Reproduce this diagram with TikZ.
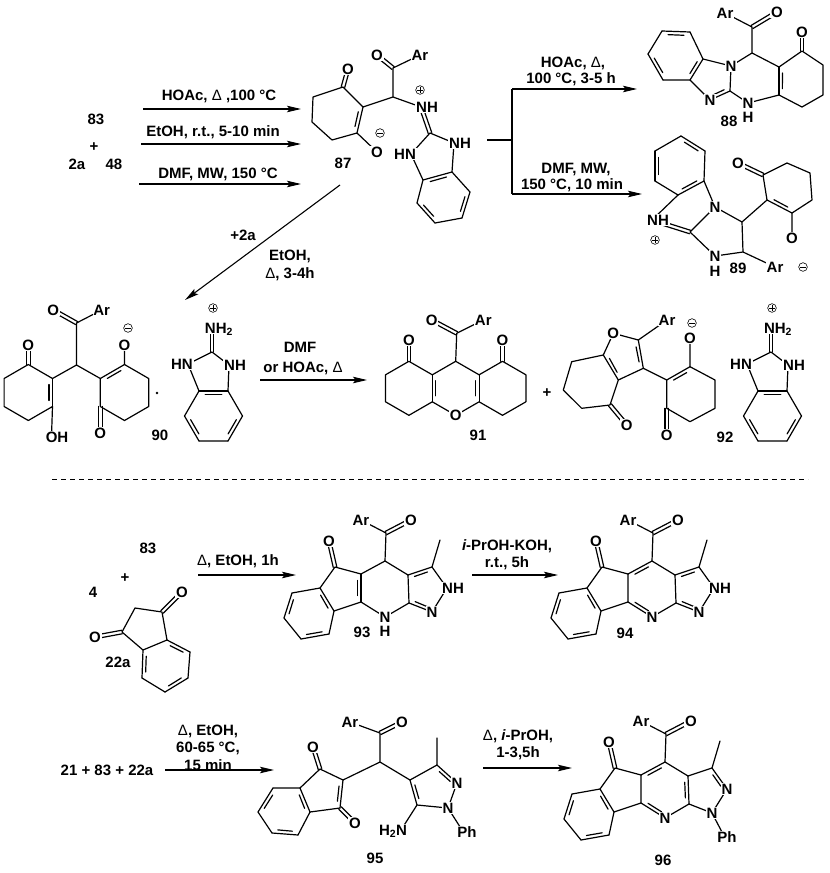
\documentclass[tikz,border=0pt]{standalone}
\usepackage{fontspec}
\setmainfont{Liberation Sans}
\usetikzlibrary{calc,arrows.meta}
\newcommand{\fs}{\fontsize{15}{17}\selectfont\bfseries}
\newcommand{\Dl}{{\mdseries Δ}}
\newcommand{\dbr}[3]{\draw[bond] (#1)--(#2); \draw[bond] ($($(#1)!.17!(#2)$)!3.7pt!(#3)$) -- ($($(#2)!.17!(#1)$)!3.7pt!(#3)$);}
\newcommand{\dbc}[2]{\draw[bond] ($(#1)!1.8pt!90:(#2)$) -- ($(#2)!1.8pt!-90:(#1)$); \draw[bond] ($(#1)!1.8pt!-90:(#2)$) -- ($(#2)!1.8pt!90:(#1)$);}
\newcommand{\chp}[2]{\node[chg] (#1) at (#2) {}; \draw[chl] (#1.center) ++(-2.6,0) -- ++(5.2,0); \draw[chl] (#1.center) ++(0,-2.6) -- ++(0,5.2);}
\newcommand{\chm}[2]{\node[chg] (#1) at (#2) {}; \draw[chl] (#1.center) ++(-2.6,0) -- ++(5.2,0);}
\tikzset{
  bond/.style={line width=1.2pt, line cap=round},
  atm/.style={fill=white, inner sep=0.7pt, text height=10.8pt, text depth=0pt, font=\fs},
  txt/.style={inner sep=0pt, text height=10.8pt, text depth=0pt, font=\fs},
  rxn/.style={line width=1.1pt, -{Stealth[length=14pt,width=6.5pt,inset=2.5pt]}},
  rline/.style={line width=1.1pt},
  chg/.style={circle, draw, line width=0.6pt, minimum size=8.6pt, inner sep=0pt},
  chl/.style={line width=0.6pt},
}
\newcommand{\AmBz}[1]{%
  \coordinate (#1C2) at (212,352);
  \coordinate (#1NN) at (212,328);
  \coordinate (#1N3) at (188,364);
  \coordinate (#1N1) at (229,365);
  \coordinate (#1b1) at (199,391);
  \coordinate (#1b2) at (228,391);
  \coordinate (#1b3) at (242.5,416);
  \coordinate (#1b4) at (228,441);
  \coordinate (#1b5) at (199,441);
  \coordinate (#1b6) at (184.5,416);
  \coordinate (#1bc) at (213.5,416);
  \dbc{#1C2}{#1NN}
  \draw[bond] (#1C2)--(#1N3) (#1C2)--(#1N1) (#1N3)--(#1b1) (#1N1)--(#1b2) (#1b2)--(#1b3) (#1b4)--(#1b5) (#1b6)--(#1b1);
  \dbr{#1b1}{#1b2}{#1bc}
  \dbr{#1b3}{#1b4}{#1bc}
  \dbr{#1b5}{#1b6}{#1bc}
  \node[atm] (#1lNH2) at (219,328) {NH\textsubscript{2}};
  \node[atm] (#1lHN) at (182,364) {HN};
  \node[atm] (#1lNH) at (235,365) {NH};
  \chp{#1pl}{213,308}
}
\newcommand{\IndCore}[1]{%
  \coordinate (#1ck) at (335,567);
  \coordinate (#1ok) at (329,541);
  \coordinate (#1ca) at (361,574);
  \coordinate (#1cb) at (361,602);
  \coordinate (#1cc) at (334,611);
  \coordinate (#1cd) at (320,588);
  \coordinate (#1b1) at (292,593);
  \coordinate (#1b2) at (284,618);
  \coordinate (#1b3) at (301,639);
  \coordinate (#1b4) at (329,634);
  \coordinate (#1bz) at (310,614);
  \coordinate (#1fc) at (342,588);
  \coordinate (#1ch) at (385,561);
  \coordinate (#1cx) at (386,533);
  \coordinate (#1ox) at (411,520);
  \coordinate (#1ar) at (361,520);
  \coordinate (#1c3a) at (408,575);
  \coordinate (#1c7a) at (409,603);
  \coordinate (#1np) at (385,617);
  \coordinate (#1pc) at (385,589);
  \coordinate (#1c3) at (432,567);
  \coordinate (#1me) at (440,540);
  \coordinate (#1n2) at (447,588);
  \coordinate (#1n1) at (432,612);
  \coordinate (#1zc) at (425,589);
  \draw[bond] (#1ck)--(#1ca) (#1cb)--(#1cc) (#1cd)--(#1ck) (#1cd)--(#1b1) (#1b2)--(#1b3) (#1b4)--(#1cc) (#1ch)--(#1cx) (#1cx)--(#1ar) (#1ch)--(#1c3a) (#1np)--(#1c7a) (#1c3)--(#1me) (#1n2)--(#1n1);
  \dbr{#1b1}{#1b2}{#1bz}
  \dbr{#1b3}{#1b4}{#1bz}
  \dbr{#1cc}{#1cd}{#1bz}
  \dbc{#1ck}{#1ok}
  \dbc{#1cx}{#1ox}
  \node[atm] (#1lok) at (#1ok) {O};
  \node[atm] (#1lox) at (#1ox) {O};
  \node[atm] (#1lar) at (#1ar) {Ar};
}
\begin{document}
\begin{tikzpicture}[x=1pt,y=-1pt]
\useasboundingbox (0,0) rectangle (830,873);

% ---------- row 1: reactants and conditions ----------
\node[txt] (t83) at (96,119) {83};
\node[txt] (tpl1) at (94,146) {+};
\node[txt] (t2a) at (77,164) {2a};
\node[txt] (t48) at (114,164) {48};
\coordinate (a1s) at (143,109); \coordinate (a1e) at (301,109);
\coordinate (a2s) at (141,144); \coordinate (a2e) at (301,144);
\coordinate (a3s) at (139,184); \coordinate (a3e) at (301,184);
\draw[rxn] (a1s) -- (a1e);
\draw[rxn] (a2s) -- (a2e);
\draw[rxn] (a3s) -- (a3e);
\node[txt] (c1) at (219,95) {HOAc, \Dl{} ,100 °C};
\node[txt] (c2) at (213,131) {EtOH, r.t., 5-10 min};
\node[txt] (c3) at (218,173) {DMF, MW, 150 °C};

% ---------- 87 ----------
\coordinate (g1) at (343,87);
\coordinate (g2) at (363,107);
\coordinate (g3) at (357,133);
\coordinate (g4) at (332,140);
\coordinate (g5) at (312,122);
\coordinate (g6) at (313,97);
\coordinate (gc) at (337,114);
\coordinate (gO1) at (348,69);
\coordinate (gO2) at (377,152);
\coordinate (gch) at (393,97);
\coordinate (gcc) at (393,68);
\coordinate (gO3) at (377,55);
\coordinate (gAr) at (420,55);
\coordinate (gN1) at (421,107);
\coordinate (gC2) at (430,133);
\coordinate (gN3) at (411,154);
\coordinate (gN4) at (454,143);
\coordinate (gb1) at (452,172);
\coordinate (gb2) at (470,192);
\coordinate (gb3) at (462,218);
\coordinate (gb4) at (435,223);
\coordinate (gb5) at (417,203);
\coordinate (gb6) at (423,180);
\coordinate (gbc) at (443,198);
\draw[bond] (g1)--(g2) (g3)--(g4) (g4)--(g5) (g5)--(g6) (g6)--(g1) (g3)--(gO2) (g2)--(gch) (gch)--(gcc) (gcc)--(gAr) (gch)--(gN1) (gC2)--(gN3) (gC2)--(gN4) (gN3)--(gb6) (gN4)--(gb1) (gb1)--(gb2) (gb3)--(gb4) (gb5)--(gb6);
\dbr{g2}{g3}{gc}
\dbc{g1}{gO1}
\dbc{gcc}{gO3}
\dbc{gN1}{gC2}
\dbr{gb6}{gb1}{gbc}
\dbr{gb2}{gb3}{gbc}
\dbr{gb4}{gb5}{gbc}
\node[atm] (glO1) at (gO1) {O};
\node[atm] (glO2) at (gO2) {O};
\node[atm] (glO3) at (gO3) {O};
\node[atm] (glAr) at (gAr) {Ar};
\node[atm] (glN1) at (427,107) {NH};
\node[atm] (glN3) at (405,154) {HN};
\node[atm] (glN4) at (460,143) {NH};
\chm{gm}{380,133}
\chp{gp}{420,90}
\node[txt] (g87) at (343,163) {87};

% ---------- branch ----------
\coordinate (br0) at (487,140); \coordinate (br1) at (512,140);
\coordinate (br2) at (512,89); \coordinate (br3) at (512,194);
\coordinate (br4) at (637,89); \coordinate (br5) at (642,194);
\draw[rline] (br0)--(br1);
\draw[rline] (br2)--(br3);
\draw[rxn] (br2)--(br4);
\draw[rxn] (br3)--(br5);
\node[txt] (c4) at (573,62) {HOAc, \Dl,};
\node[txt] (c5) at (571,78) {100 °C, 3-5 h};
\node[txt] (c6) at (576,168) {DMF, MW,};
\node[txt] (c7) at (572,184) {150 °C, 10 min};

% ---------- 88 ----------
\coordinate (h1) at (752,53);
\coordinate (h2) at (779,67);
\coordinate (h3) at (779,95);
\coordinate (h4) at (748,103);
\coordinate (h5) at (730,91);
\coordinate (h6) at (731,66);
\coordinate (k1) at (802,51);
\coordinate (k2) at (823,65);
\coordinate (k3) at (823,95);
\coordinate (k4) at (802,107);
\coordinate (kc) at (801,80);
\coordinate (kO) at (802,32);
\coordinate (hcc) at (752,27);
\coordinate (hO) at (777,12);
\coordinate (hAr) at (725,13);
\coordinate (hN3) at (710,100);
\coordinate (hb1) at (703,59);
\coordinate (hb2) at (690,80);
\coordinate (hb3) at (663,80);
\coordinate (hb4) at (648,54);
\coordinate (hb5) at (662,31);
\coordinate (hb6) at (690,32);
\coordinate (hbc) at (676,56);
\coordinate (hic) at (713,77);
\draw[bond] (h1)--(h2) (h3)--(h4) (h4)--(h5) (h5)--(h6) (h6)--(h1) (k1)--(h2) (k1)--(k2) (k2)--(k3) (k3)--(k4) (k4)--(h3) (h1)--(hcc) (hcc)--(hAr) (h6)--(hb1) (hN3)--(hb2) (hb2)--(hb3) (hb4)--(hb5) (hb6)--(hb1);
\dbr{h2}{h3}{kc}
\dbc{k1}{kO}
\dbc{hcc}{hO}
\dbr{h5}{hN3}{hic}
\dbr{hb1}{hb2}{hbc}
\dbr{hb3}{hb4}{hbc}
\dbr{hb5}{hb6}{hbc}
\node[atm] (hlkO) at (kO) {O};
\node[atm] (hlO) at (hO) {O};
\node[atm] (hlAr) at (hAr) {Ar};
\node[atm] (hlN6) at (h6) {N};
\node[atm] (hlN3) at (hN3) {N};
\node[atm] (hlN4) at (h4) {N};
\node[atm] (hlH) at (748,117) {H};
\node[txt] (h88) at (729,121) {88};

% ---------- 89 ----------
\coordinate (m1) at (681,136);
\coordinate (m2) at (705,151);
\coordinate (m3) at (704,181);
\coordinate (m4) at (678,195);
\coordinate (m5) at (655,181);
\coordinate (m6) at (655,151);
\coordinate (mc) at (680,166);
\coordinate (mN3) at (652,220);
\coordinate (mC2) at (690,232);
\coordinate (mN1) at (715,207);
\coordinate (mC5) at (742,222);
\coordinate (mC4) at (743,252);
\coordinate (mN4) at (715,256);
\coordinate (mAr) at (775,267);
\coordinate (r1) at (767,200);
\coordinate (r2) at (763,175);
\coordinate (r3) at (787,163);
\coordinate (r4) at (810,173);
\coordinate (r5) at (812,200);
\coordinate (r6) at (792,213);
\coordinate (rc) at (788,187);
\coordinate (rO1) at (738,163);
\coordinate (rO2) at (792,238);
\draw[bond] (m2)--(m3) (m4)--(m5) (m6)--(m1) (m4)--(mN3) (mC2)--(mN1) (mN1)--(m3) (mN1)--(mC5) (mC5)--(mC4) (mC4)--(mN4) (mN4)--(mC2) (mC4)--(mAr) (mC5)--(r1) (r1)--(r2) (r2)--(r3) (r3)--(r4) (r4)--(r5) (r5)--(r6) (r6)--(rO2);
\dbr{m1}{m2}{mc}
\dbr{m3}{m4}{mc}
\dbr{m5}{m6}{mc}
\dbc{mN3}{mC2}
\dbr{r6}{r1}{rc}
\dbc{r2}{rO1}
\node[atm] (mlN3) at (658,220) {NH};
\chp{mp}{655,240}
\node[atm] (mlN1) at (mN1) {N};
\node[atm] (mlN4) at (mN4) {N};
\node[atm, inner sep=0pt] (mlH) at (715,271) {H};
\node[txt] (m89) at (738,268) {89};
\node[atm] (mlAr) at (mAr) {Ar};
\node[atm] (mlO1) at (rO1) {O};
\node[atm] (mlO2) at (rO2) {O};
\chm{mm}{803,267}

% ---------- arrow 87 -> 90 ----------
\coordinate (d87s) at (340,185); \coordinate (d87e) at (185,300);
\draw[rxn] (d87s)--(d87e);
\node[txt] (c8) at (243,235) {+2a};
\node[txt] (c9) at (290,255) {EtOH,};
\node[txt] (c10) at (290,273) {\Dl, 3-4h};

% ---------- 90 ----------
\coordinate (L1) at (28.3,364.5);
\coordinate (L2) at (52.5,378.5);
\coordinate (L3) at (52.5,406.5);
\coordinate (L4) at (28.3,420.5);
\coordinate (L5) at (4.1,406.5);
\coordinate (L6) at (4.1,378.5);
\coordinate (Lc) at (28.3,392.5);
\coordinate (LO) at (28.3,345);
\coordinate (LOH) at (51.5,436);
\coordinate (R1) at (124.5,364.5);
\coordinate (R2) at (100.3,378.5);
\coordinate (R3) at (100.3,406.5);
\coordinate (R4) at (124.5,420.5);
\coordinate (R5) at (148.7,406.5);
\coordinate (R6) at (148.7,378.5);
\coordinate (Rc) at (124.5,392.5);
\coordinate (RO1) at (124.5,345);
\coordinate (RO3) at (100.3,433);
\coordinate (vch) at (76.5,365);
\coordinate (vcx) at (76.5,323);
\coordinate (vO) at (53.3,310);
\coordinate (vAr) at (101.7,310);
\draw[bond] (L1)--(L2) (L3)--(L4) (L4)--(L5) (L5)--(L6) (L6)--(L1) (L3)--(LOH) (L2)--(vch) (vch)--(R2) (vch)--(vcx) (vcx)--(vAr) (R2)--(R3) (R3)--(R4) (R4)--(R5) (R5)--(R6) (R6)--(R1) (R1)--(RO1);
\dbr{L2}{L3}{Lc}
\dbc{L1}{LO}
\dbc{vcx}{vO}
\dbr{R1}{R2}{Rc}
\dbc{R3}{RO3}
\node[atm] (vlLO) at (LO) {O};
\node[atm] (vlOH) at (57,437) {OH};
\node[atm] (vlO) at (vO) {O};
\node[atm] (vlAr) at (vAr) {Ar};
\node[atm] (vlRO1) at (RO1) {O};
\chm{vm}{128,328}
\node[atm] (vlRO3) at (RO3) {O};
\node[circle, fill, inner sep=0pt, minimum size=2.6pt] (vdot) at (157,393) {};
\node[txt] (v90) at (160,435) {90};
\AmBz{a90}

% ---------- arrow 90 -> 91 ----------
\coordinate (e90s) at (260,380); \coordinate (e90e) at (367,380);
\draw[rxn] (e90s)--(e90e);
\node[txt] (c11) at (300,347) {DMF};
\node[txt] (c12) at (303,367) {or HOAc, \Dl};

% ---------- 91 ----------
\coordinate (xp1) at (455.7,361.3);
\coordinate (xp2) at (479.1,374.8);
\coordinate (xp3) at (479.1,401.8);
\coordinate (xp4) at (455.7,415.3);
\coordinate (xp5) at (432.3,401.8);
\coordinate (xp6) at (432.3,374.8);
\coordinate (xpc) at (455.7,388.3);
\coordinate (xla) at (408.9,361.3);
\coordinate (xlb) at (385.5,374.8);
\coordinate (xlc) at (385.5,401.8);
\coordinate (xld) at (408.9,415.3);
\coordinate (xra) at (502.5,361.3);
\coordinate (xrb) at (525.9,374.8);
\coordinate (xrc) at (525.9,401.8);
\coordinate (xrd) at (502.5,415.3);
\coordinate (xlO) at (408.9,340);
\coordinate (xrO) at (502.5,340);
\coordinate (xcx) at (456.7,333.3);
\coordinate (xO) at (431.7,320);
\coordinate (xAr) at (483.3,320);
\draw[bond] (xp1)--(xp2) (xp3)--(xp4) (xp4)--(xp5) (xp6)--(xp1) (xla)--(xp6) (xla)--(xlb) (xlb)--(xlc) (xlc)--(xld) (xld)--(xp5) (xra)--(xp2) (xra)--(xrb) (xrb)--(xrc) (xrc)--(xrd) (xrd)--(xp3) (xp1)--(xcx) (xcx)--(xAr);
\dbr{xp2}{xp3}{xpc}
\dbr{xp5}{xp6}{xpc}
\dbc{xla}{xlO}
\dbc{xra}{xrO}
\dbc{xcx}{xO}
\node[atm] (xlp4) at (xp4) {O};
\node[atm] (xllO) at (xlO) {O};
\node[atm] (xlrO) at (xrO) {O};
\node[atm] (xlO) at (xO) {O};
\node[atm] (xlAr) at (xAr) {Ar};
\node[txt] (x91) at (478,435) {91};
\node[txt] (xplus) at (547,392) {+};

% ---------- 92 ----------
\coordinate (fO) at (613.3,333.3);
\coordinate (f2) at (638.3,340);
\coordinate (f3) at (643.3,368.3);
\coordinate (f3a) at (618.3,380);
\coordinate (f7a) at (603.3,355);
\coordinate (ffc) at (624,355);
\coordinate (fAr) at (667,320);
\coordinate (f7) at (571.7,361.7);
\coordinate (f6) at (563.3,390);
\coordinate (f5) at (581.7,408.3);
\coordinate (f4) at (610,405);
\coordinate (f4O) at (626.7,425);
\coordinate (e1) at (666.7,380);
\coordinate (e2) at (690,366.7);
\coordinate (e3) at (715,380);
\coordinate (e4) at (715,408.3);
\coordinate (e5) at (690,421.7);
\coordinate (e6) at (666.7,408.3);
\coordinate (ec) at (690.5,394);
\coordinate (e2O) at (690,338.3);
\coordinate (e6O) at (666.7,435);
\draw[bond] (fO)--(f2) (f3)--(f3a) (f7a)--(fO) (f7a)--(f7) (f7)--(f6) (f6)--(f5) (f5)--(f4) (f4)--(f3a) (f2)--(fAr) (f3)--(e1) (e2)--(e3) (e3)--(e4) (e4)--(e5) (e5)--(e6) (e6)--(e1) (e2)--(e2O);
\dbr{f2}{f3}{ffc}
\dbr{f3a}{f7a}{ffc}
\dbc{f4}{f4O}
\dbr{e1}{e2}{ec}
\dbc{e6}{e6O}
\node[atm] (flO) at (fO) {O};
\node[atm] (flAr) at (fAr) {Ar};
\node[atm] (fl4O) at (f4O) {O};
\node[atm] (fle2O) at (e2O) {O};
\chm{fm}{692,323}
\node[atm] (fle6O) at (e6O) {O};
\node[txt] (f92) at (725,437) {92};
\begin{scope}[shift={(559,0)}]
\AmBz{a92}
\end{scope}

% ---------- dashed separator ----------
\coordinate (sep1) at (52,479); \coordinate (sep2) at (808,479);
\draw[line width=0.8pt, dash pattern=on 5pt off 4pt] (sep1)--(sep2);

% ---------- row 2 ----------
\node[txt] (t83b) at (148,548) {83};
\node[txt] (tpl2) at (125,577) {+};
\node[txt] (t4) at (93,592) {4};
\coordinate (i1) at (162,612);
\coordinate (i1O) at (182,592);
\coordinate (i2) at (135,608);
\coordinate (i3) at (122,632);
\coordinate (i3O) at (95,637);
\coordinate (i3a) at (143,650);
\coordinate (i7a) at (167,640);
\coordinate (i7) at (190,652);
\coordinate (i6) at (188,678);
\coordinate (i5) at (165,692);
\coordinate (i4) at (142,678);
\coordinate (ibz) at (166,665);
\draw[bond] (i1)--(i2) (i2)--(i3) (i3)--(i3a) (i7a)--(i1) (i7)--(i6) (i5)--(i4) (i3a)--(i7a);
\dbc{i1}{i1O}
\dbc{i3}{i3O}
\dbr{i7a}{i7}{ibz}
\dbr{i6}{i5}{ibz}
\dbr{i4}{i3a}{ibz}
\node[atm] (il1O) at (i1O) {O};
\node[atm] (il3O) at (i3O) {O};
\node[txt] (i22a) at (118,662) {22a};

\coordinate (b2s) at (198,575); \coordinate (b2e) at (296,575);
\draw[rxn] (b2s)--(b2e);
\node[txt] (c13) at (238,560) {\Dl, EtOH, 1h};

% 93
\IndCore{ta}
\draw[bond] (tach)--(taca) (tacb)--(tanp) (tac7a)--(tac3a) (tac3)--(tan2);
\dbr{taca}{tacb}{tafc}
\dbr{tac3a}{tac3}{tazc}
\dbr{tan1}{tac7a}{tazc}
\node[atm] (talnp) at (tanp) {N};
\node[atm] (talH) at (385,631) {H};
\node[atm] (talnh) at (453,588) {NH};
\node[atm] (taln1) at (tan1) {N};
\node[txt] (ta93) at (362,632) {93};

\coordinate (b3s) at (472,575); \coordinate (b3e) at (558,575);
\draw[rxn] (b3s)--(b3e);
\node[txt] (c14) at (507,545) {{\itshape i}-PrOH-KOH,};
\node[txt] (c15) at (507,562) {r.t., 5h};

% 94
\begin{scope}[shift={(267,0)}]
\IndCore{tb}
\draw[bond] (tbca)--(tbcb) (tbc7a)--(tbc3a) (tbc3)--(tbn2);
\dbr{tbch}{tbca}{tbpc}
\dbr{tbcb}{tbnp}{tbpc}
\dbr{tbc3a}{tbc3}{tbzc}
\dbr{tbn1}{tbc7a}{tbzc}
\node[atm] (tblnp) at (tbnp) {N};
\node[atm] (tblnh) at (453,588) {NH};
\node[atm] (tbln1) at (tbn1) {N};
\node[txt] (tb94) at (358,633) {94};
\end{scope}

% ---------- row 3 ----------
\node[txt] (t21) at (107,770) {21 + 83 + 22a};
\coordinate (b4s) at (165,770); \coordinate (b4e) at (274,770);
\draw[rxn] (b4s)--(b4e);
\node[txt] (c16) at (208,730) {\Dl, EtOH,};
\node[txt] (c17) at (208,747) {60-65 °C,};
\node[txt] (c18) at (208,765) {15 min};

% 95
\coordinate (w1) at (320,769);
\coordinate (w1O) at (313,747);
\coordinate (w2) at (343,780);
\coordinate (w3) at (340,808);
\coordinate (w3O) at (355,823);
\coordinate (w3a) at (310,812);
\coordinate (w7a) at (300,788);
\coordinate (wfc) at (323,792);
\coordinate (w7) at (273,788);
\coordinate (w6) at (258,812);
\coordinate (w5) at (272,833);
\coordinate (w4) at (298,835);
\coordinate (wbz) at (285,811);
\coordinate (wch) at (380,762);
\coordinate (wcx) at (380,733);
\coordinate (wox) at (402,722);
\coordinate (war) at (350,722);
\coordinate (q4) at (410,780);
\coordinate (q3) at (437,765);
\coordinate (qme) at (437,738);
\coordinate (qn2) at (457,783);
\coordinate (qn1) at (448,808);
\coordinate (q5) at (417,805);
\coordinate (qzc) at (434,788);
\coordinate (qnh) at (401,830);
\coordinate (qph) at (462,830);
\draw[bond] (w1)--(w2) (w3)--(w3a) (w7a)--(w1) (w7a)--(w7) (w6)--(w5) (w4)--(w3a) (w2)--(wch) (wch)--(wcx) (wcx)--(war) (wch)--(q4) (q4)--(q3) (qn2)--(qn1) (qn1)--(q5) (q3)--(qme) (q5)--(qnh) (qn1)--(qph);
\dbr{w2}{w3}{wfc}
\dbc{w1}{w1O}
\dbc{w3}{w3O}
\dbr{w7}{w6}{wbz}
\dbr{w5}{w4}{wbz}
\dbr{w3a}{w7a}{wbz}
\dbc{wcx}{wox}
\dbr{q4}{q5}{qzc}
\dbr{q3}{qn2}{qzc}
\node[atm] (wl1O) at (w1O) {O};
\node[atm] (wl3O) at (w3O) {O};
\node[atm] (wlox) at (wox) {O};
\node[atm] (wlar) at (war) {Ar};
\node[atm] (qln2) at (qn2) {N};
\node[atm] (qln1) at (qn1) {N};
\node[atm] (qlnh) at (393,830) {H\textsubscript{2}N};
\node[atm] (qlph) at (467,832) {Ph};
\node[txt] (w95) at (375,858) {95};

\coordinate (b5s) at (483,768); \coordinate (b5e) at (572,768);
\draw[rxn] (b5s)--(b5e);
\node[txt] (c19) at (518,735) {\Dl, {\itshape i}-PrOH,};
\node[txt] (c20) at (518,752) {1-3,5h};

% 96
\begin{scope}[shift={(280,201)}]
\IndCore{tc}
\coordinate (tcph) at (443,633);
\draw[bond] (tcca)--(tccb) (tcc3a)--(tcc3) (tcn1)--(tcc7a) (tcn1)--(tcph);
\dbr{tcch}{tcca}{tcpc}
\dbr{tccb}{tcnp}{tcpc}
\dbr{tcc7a}{tcc3a}{tcpc}
\dbr{tcc3}{tcn2}{tczc}
\node[atm] (tclnp) at (tcnp) {N};
\node[atm] (tcln2) at (tcn2) {N};
\node[atm] (tcln1) at (tcn1) {N};
\node[atm] (tclph) at (447,636) {Ph};
\node[txt] (tc96) at (383,659) {96};
\end{scope}
\end{tikzpicture}
\end{document}
